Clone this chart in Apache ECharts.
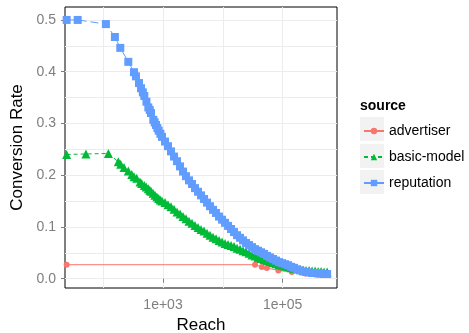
<!DOCTYPE html>
<html>
<head>
<meta charset="utf-8">
<script src="https://cdn.jsdelivr.net/npm/echarts@6/dist/echarts.min.js"></script>
<style>
  html, body { margin: 0; padding: 0; background: #fff; }
  #main { width: 469px; height: 333px; }
</style>
</head>
<body>
<div id="main"></div>
<script>
// reach (x, log scale) and conversion rate (y) per source
const advReach = [24.5, 34500, 44700, 54200, 84700, 142000, 237000, 391000, 552000];
const advRate = [0.027, 0.027, 0.0225, 0.0205, 0.016, 0.013, 0.010, 0.008, 0.007];

// sparse start of each curve
const basicReachHead = [24.5, 51.5, 122, 179, 196, 223, 263, 300, 327, 363, 412, 440, 487, 525, 568, 600, 630, 680, 735, 790, 847, 900, 962];
const basicRateHead = [0.240, 0.241, 0.242, 0.226, 0.221, 0.215, 0.208, 0.2015, 0.197, 0.194, 0.187, 0.184, 0.180, 0.177, 0.174, 0.171, 0.169, 0.165, 0.161, 0.158, 0.155, 0.152, 0.150];

const repReachHead = [24.5, 37.5, 111, 157, 193, 263, 327, 353, 397, 429, 460, 487, 528, 568, 600, 630, 689, 725, 764, 805, 847, 905, 962];
const repRateHead = [0.500, 0.500, 0.492, 0.467, 0.446, 0.419, 0.399, 0.391, 0.378, 0.368, 0.360, 0.353, 0.342, 0.331, 0.326, 0.320, 0.307, 0.302, 0.297, 0.291, 0.286, 0.280, 0.274];

// dense part, shared reach values
const reachDense = [1080, 1212, 1361, 1528, 1715, 1925, 2160, 2424, 2721, 3054, 3428, 3848, 4319, 4848, 5441,
  6107, 6857, 7696, 8639, 9697, 10884, 12216, 13712, 15390, 17274, 19389, 21763, 24428, 27416, 30773,
  34540, 38769, 43515, 48842, 54819, 61530, 69065, 77517, 87008, 97724, 109660, 123100, 138170, 155080,
  174060, 195430, 219380, 246220, 276380, 310160, 348190, 390830, 438660, 492330, 552690];
const basicRateDense = [0.147, 0.143, 0.139, 0.134, 0.129, 0.125, 0.120, 0.116, 0.111, 0.107, 0.103, 0.099, 0.095, 0.092, 0.088,
  0.084, 0.080, 0.077, 0.074, 0.071, 0.068, 0.066, 0.064, 0.062, 0.059, 0.057, 0.054, 0.052, 0.049, 0.046,
  0.044, 0.041, 0.039, 0.037, 0.035, 0.033, 0.031, 0.029, 0.027, 0.026, 0.024, 0.023, 0.021, 0.020,
  0.019, 0.018, 0.017, 0.016, 0.016, 0.015, 0.015, 0.014, 0.014, 0.013, 0.013];
const repRateDense = [0.265, 0.256, 0.246, 0.236, 0.227, 0.217, 0.207, 0.198, 0.190, 0.183, 0.175, 0.168, 0.161, 0.154, 0.147,
  0.140, 0.133, 0.127, 0.120, 0.114, 0.108, 0.102, 0.096, 0.090, 0.084, 0.079, 0.074, 0.069, 0.065, 0.061,
  0.057, 0.054, 0.051, 0.048, 0.044, 0.041, 0.038, 0.035, 0.032, 0.030, 0.028, 0.026, 0.023, 0.021,
  0.018, 0.016, 0.014, 0.013, 0.012, 0.011, 0.011, 0.010, 0.010, 0.009, 0.009];

const xTicks = [1000, 100000];
const xGridLines = [100, 1000, 10000, 100000];
const yTicks = [0, 0.1, 0.2, 0.3, 0.4, 0.5];
const yMinorLines = [0.05, 0.15, 0.25, 0.35, 0.45];

const pairs = (xs, ys) => xs.map((x, i) => [x, ys[i]]);

const gridLine = {show: true, lineStyle: {color: '#ececec', width: 1, type: 'solid', opacity: 1, shadowBlur: 0}};
const tickCol = '#7f7f7f';
const xMin = 23, xMax = 809000;
const yMin = -0.018, yMax = 0.525;

var chart = echarts.init(document.getElementById('main'), null, {renderer: 'canvas'});

const option = {
  animation: false,
  backgroundColor: '#ffffff',
  grid: {
    left: 65, right: 132, top: 7, bottom: 45,
    outerBoundsMode: 'none',
    show: true, backgroundColor: '#ffffff', borderColor: '#000', borderWidth: 1
  },
  xAxis: [
    {
      // vertical gridlines (major + minor decades)
      type: 'log', min: xMin, max: xMax,
      axisLine: {show: false}, axisLabel: {show: false},
      axisTick: {show: false, customValues: xGridLines},
      splitArea: {show: false},
      splitLine: gridLine
    },
    {
      type: 'log', min: xMin, max: xMax, position: 'bottom',
      name: 'Reach', nameLocation: 'middle', nameGap: 27,
      nameTextStyle: {color: '#000', fontSize: 17, fontFamily: 'Liberation Sans'},
      axisLine: {show: false},
      axisTick: {show: true, customValues: xTicks, length: 4, lineStyle: {color: tickCol}},
      axisLabel: {
        customValues: xTicks, color: tickCol, fontSize: 14, fontFamily: 'Liberation Sans', margin: 10,
        formatter: v => '1e+0' + Math.round(Math.log10(v))
      },
      splitArea: {show: false},
      splitLine: {show: false}
    }
  ],
  yAxis: [
    {
      type: 'value', min: yMin, max: yMax,
      name: 'Conversion Rate', nameLocation: 'middle', nameGap: 29,
      nameTextStyle: {color: '#000', fontSize: 17, fontFamily: 'Liberation Sans'},
      axisLine: {show: false},
      axisTick: {show: true, customValues: yTicks, length: 4, lineStyle: {color: tickCol}},
      axisLabel: {
        customValues: yTicks, color: tickCol, fontSize: 14, fontFamily: 'Liberation Sans', margin: 9,
        formatter: v => v.toFixed(1)
      },
      splitArea: {show: false},
      splitLine: gridLine
    },
    {
      // minor horizontal gridlines
      type: 'value', min: yMin, max: yMax, position: 'left',
      axisLine: {show: false}, axisLabel: {show: false},
      axisTick: {show: false, customValues: yMinorLines},
      splitArea: {show: false},
      splitLine: gridLine
    }
  ],
  legend: {
    orient: 'vertical', left: 358, top: 113, z: 5,
    itemWidth: 20, itemHeight: 8, itemGap: 0,
    selectedMode: false,
    textStyle: {color: '#000', fontSize: 14, fontFamily: 'Liberation Sans', lineHeight: 26},
    data: ['advertiser', 'basic-model', 'reputation']
  },
  graphic: [
    {type: 'text', left: 360, top: 99, style: {text: 'source', font: 'bold 14px Liberation Sans', fill: '#000'}},
    {type: 'rect', left: 360, top: 117, z: 0, shape: {width: 24, height: 24}, style: {fill: '#f2f2f2'}},
    {type: 'rect', left: 360, top: 144, z: 0, shape: {width: 24, height: 24}, style: {fill: '#f2f2f2'}},
    {type: 'rect', left: 360, top: 170, z: 0, shape: {width: 24, height: 24}, style: {fill: '#f2f2f2'}}
  ],
  series: [
    {
      name: 'advertiser', type: 'line', data: pairs(advReach, advRate),
      symbol: 'circle', symbolSize: 6, color: '#F8766D',
      lineStyle: {width: 1, type: 'solid'}
    },
    {
      name: 'basic-model', type: 'line',
      data: pairs(basicReachHead.concat(reachDense), basicRateHead.concat(basicRateDense)),
      symbol: 'triangle', symbolSize: 9, color: '#00BA38',
      lineStyle: {width: 1, type: [4, 3]}
    },
    {
      name: 'reputation', type: 'line',
      data: pairs(repReachHead.concat(reachDense), repRateHead.concat(repRateDense)),
      symbol: 'rect', symbolSize: 8, color: '#619CFF',
      lineStyle: {width: 1, type: [8, 4]}
    }
  ]
};

chart.setOption(option);
</script>
</body>
</html>
